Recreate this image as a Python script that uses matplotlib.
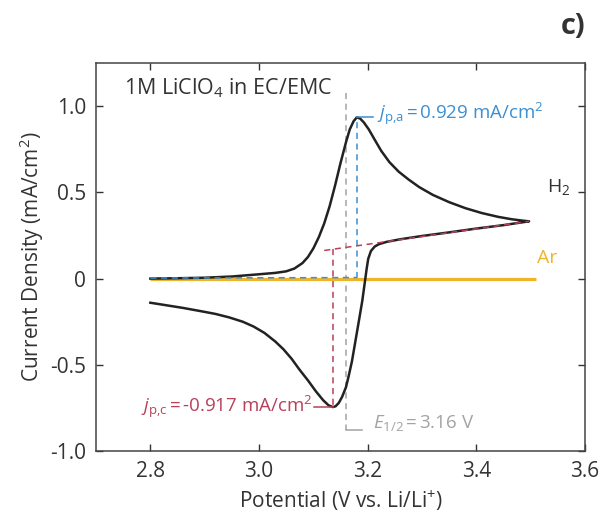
import numpy as np
import matplotlib.pyplot as plt

plt.rcParams['font.family'] = ['Open Sans', 'DejaVu Sans']
plt.rcParams['mathtext.fontset'] = 'custom'
plt.rcParams['mathtext.rm'] = 'Open Sans'
plt.rcParams['mathtext.it'] = 'Open Sans:italic'

# H2 cyclic voltammogram, forward (anodic) scan
fwd_v = [2.80, 2.85, 2.90, 2.95, 3.00, 3.03, 3.05, 3.065, 3.08, 3.09,
         3.10, 3.11, 3.12, 3.13, 3.14, 3.15, 3.16, 3.167, 3.174, 3.180,
         3.186, 3.193, 3.202, 3.212, 3.225, 3.240, 3.257, 3.275, 3.295, 3.320,
         3.350, 3.380, 3.410, 3.440, 3.465, 3.485, 3.497]
fwd_j = [0.000, 0.002, 0.005, 0.012, 0.025, 0.033, 0.042, 0.058, 0.090, 0.125,
         0.175, 0.240, 0.320, 0.420, 0.540, 0.670, 0.790, 0.865, 0.912, 0.935,
         0.928, 0.905, 0.865, 0.810, 0.740, 0.675, 0.620, 0.575, 0.530, 0.485,
         0.443, 0.408, 0.380, 0.358, 0.344, 0.336, 0.332]
# reverse (cathodic) scan
rev_v = [3.497, 3.45, 3.40, 3.35, 3.30, 3.26, 3.235, 3.221, 3.213, 3.206,
         3.201, 3.198, 3.195, 3.190, 3.183, 3.177, 3.171, 3.165, 3.160, 3.153,
         3.147, 3.141, 3.136, 3.128, 3.118, 3.105, 3.090, 3.075, 3.060, 3.045,
         3.030, 3.010, 2.990, 2.970, 2.945, 2.920, 2.900, 2.860, 2.830, 2.800]
rev_j = [0.332, 0.310, 0.290, 0.268, 0.247, 0.228, 0.213, 0.200, 0.186, 0.160,
         0.115, 0.055, -0.015, -0.130, -0.260, -0.370, -0.480, -0.565, -0.630, -0.685,
         -0.720, -0.740, -0.745, -0.735, -0.705, -0.655, -0.590, -0.530, -0.465, -0.410,
         -0.365, -0.315, -0.278, -0.250, -0.225, -0.205, -0.193, -0.170, -0.155, -0.140]
# Ar blank
ar_v = [2.80, 3.51]
ar_j = [0.0, 0.0]

e_half = 3.16
v_pa, j_pa = 3.180, 0.935
v_pc, j_pc = 3.136, -0.745
base_a_v = [2.80, 3.180]
base_a_j = [0.003, 0.006]
base_c_v = [3.120, 3.497]
base_c_j = [0.163, 0.332]

blue = '#3b8fd3'
red = '#b8405a'
gray = '#a3a3a3'
gold = '#f0b429'
dark = '#333333'

fig = plt.figure(figsize=(6.05, 5.12), dpi=100)
ax = fig.add_axes([0.1587, 0.119, 0.8083, 0.758])

dash = (0, (4, 3))
ax.plot(ar_v, ar_j, color=gold, lw=2.3, solid_capstyle='butt', zorder=2)
ax.plot(fwd_v + rev_v, fwd_j + rev_j, color='#222222', lw=1.8, zorder=3)

# peak / baseline construction
ax.plot(base_a_v, base_a_j, color=blue, lw=1.1, ls=dash, zorder=4)
ax.plot([v_pa, v_pa], [base_a_j[1], j_pa], color=blue, lw=1.1, ls=dash, zorder=4)
ax.plot([v_pa, v_pa + 0.03], [j_pa, j_pa], color=blue, lw=1.1, zorder=4)
ax.plot(base_c_v, base_c_j, color=red, lw=1.1, ls=dash, zorder=4)
ax.plot([v_pc, v_pc], [0.17, j_pc], color=red, lw=1.1, ls=dash, zorder=4)
ax.plot([v_pc - 0.035, v_pc], [j_pc, j_pc], color=red, lw=1.1, zorder=4)
ax.plot([e_half, e_half], [1.075, -0.875], color=gray, lw=1.1, ls=dash, zorder=1)
ax.plot([e_half, e_half + 0.03], [-0.875, -0.875], color=gray, lw=1.1, zorder=1)

ax.text(2.752, 1.105, '1M LiClO$_4$ in EC/EMC', fontsize=15.5, color=dark, va='center')
ax.text(3.218, 0.955, '$j_{\\mathrm{p{,}a}}\\,$=$\\,$0.929 mA/cm$^2$', fontsize=13.5,
        color=blue, va='center')
ax.text(3.551, 0.53, 'H$_2$', fontsize=14, color=dark, va='center', ha='center')
ax.text(3.531, 0.12, 'Ar', fontsize=14, color=gold, va='center', ha='center')
ax.text(3.098, -0.745, '$j_{\\mathrm{p{,}c}}\\,$=$\\,$-0.917 mA/cm$^2$', fontsize=13.5,
        color=red, va='center', ha='right')
ax.text(3.210, -0.84, '$E_{1/2}\\,$=$\\,$3.16 V', fontsize=13.5, color=gray, va='center')
fig.text(0.967, 0.949, 'c)', fontsize=21, fontweight='bold', color=dark, ha='right', va='center')

ax.set_xlim(2.7, 3.6)
ax.set_ylim(-1.0, 1.25)
ax.set_xticks([2.8, 3.0, 3.2, 3.4, 3.6])
ax.set_xticklabels(['2.8', '3.0', '3.2', '3.4', '3.6'])
ax.set_yticks([-1.0, -0.5, 0, 0.5, 1.0])
ax.set_yticklabels(['-1.0', '-0.5', '0', '0.5', '1.0'])
ax.tick_params(direction='in', top=True, right=True, length=5, width=1,
               labelsize=15, colors=dark, labelcolor=dark, pad=7)
for s in ax.spines.values():
    s.set_color('#444444')
    s.set_linewidth(1.1)
ax.set_xlabel('Potential (V vs. Li/Li$^{+}$)', fontsize=15, color=dark, labelpad=5)
ax.set_ylabel('Current Density (mA/cm$^2$)', fontsize=15, color=dark, labelpad=3)

fig.savefig('out.png', dpi=100)
